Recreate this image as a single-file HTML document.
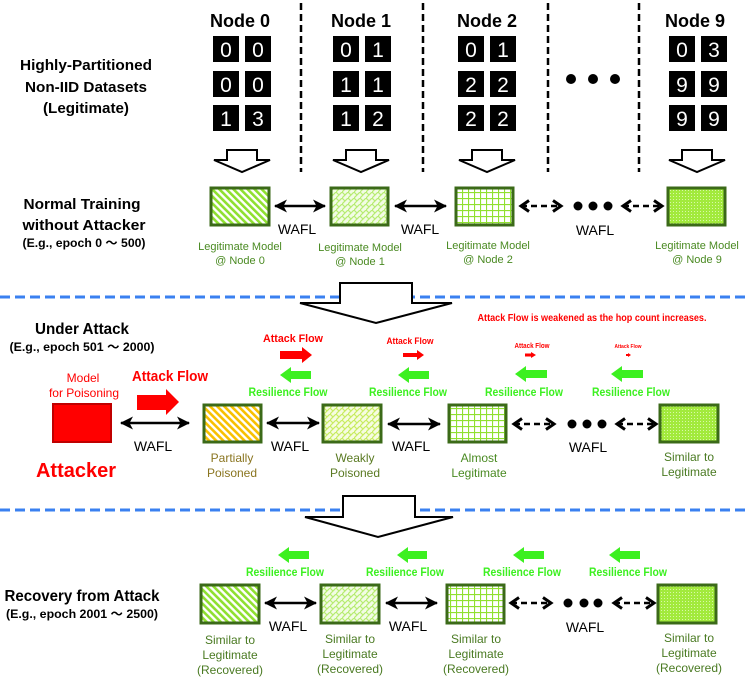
<!DOCTYPE html>
<html><head><meta charset="utf-8"><style>
html,body{margin:0;padding:0;background:#fff;}
svg{display:block;font-family:"Liberation Sans","Noto Sans CJK JP",sans-serif;}
</style></head><body>
<svg width="747" height="681" viewBox="0 0 747 681" xmlns="http://www.w3.org/2000/svg">
<defs>
<pattern id="pDiag" width="5" height="5" patternUnits="userSpaceOnUse" patternTransform="rotate(-45)">
<rect width="5" height="5" fill="#fff"/><rect width="2.6" height="5" fill="#8fe030"/></pattern>
<pattern id="pOrange" width="5" height="5" patternUnits="userSpaceOnUse" patternTransform="rotate(-45)">
<rect width="5" height="5" fill="#fff"/><rect width="2.6" height="5" fill="#f8c000"/></pattern>
<pattern id="pCross" width="6" height="6" patternUnits="userSpaceOnUse">
<rect width="6" height="6" fill="#f2fce4"/><path d="M0 6L6 0M0 0L3 3" stroke="#b6ec70" stroke-width="1.2"/></pattern>
<pattern id="pCrossY" width="6" height="6" patternUnits="userSpaceOnUse">
<rect width="6" height="6" fill="#f6fce0"/><path d="M0 6L6 0M0 0L3 3" stroke="#c8ec60" stroke-width="1.2"/></pattern>
<pattern id="pGrid" width="6" height="6" patternUnits="userSpaceOnUse">
<rect width="6" height="6" fill="#fff"/><path d="M0 0.5H6M0.5 0V6" stroke="#90e030" stroke-width="1.2"/></pattern>
<pattern id="pDot" width="3" height="3" patternUnits="userSpaceOnUse">
<rect width="3" height="3" fill="#a2ea3c"/><rect x="1" y="1" width="1" height="1" fill="#d8f8a8"/></pattern>
<marker id="ah" markerUnits="userSpaceOnUse" markerWidth="16" markerHeight="16" refX="13" refY="8" orient="auto-start-reverse">
<path d="M1 1.5 L14 8 L1 14.5 L4.5 8Z" fill="#000"/></marker>
<marker id="ch" markerUnits="userSpaceOnUse" markerWidth="14" markerHeight="14" refX="11" refY="7" orient="auto-start-reverse">
<path d="M3 1.5 L11 7 L3 12.5" fill="none" stroke="#000" stroke-width="3"/></marker>
</defs>

<g font-weight="bold" font-size="18" text-anchor="middle" fill="#000">
<text x="240" y="27">Node 0</text><text x="361" y="27">Node 1</text>
<text x="487" y="27">Node 2</text><text x="695" y="27">Node 9</text>
</g>
<g stroke="#000" stroke-width="2.5" stroke-dasharray="7,4">
<line x1="301" y1="3" x2="301" y2="172"/><line x1="423" y1="3" x2="423" y2="172"/>
<line x1="548" y1="3" x2="548" y2="172"/><line x1="639" y1="3" x2="639" y2="172"/>
</g>
<g fill="#000">
<rect x="213" y="36" width="26" height="26"/><rect x="245" y="36" width="26" height="26"/>
<rect x="213" y="71" width="26" height="26"/><rect x="245" y="71" width="26" height="26"/>
<rect x="213" y="105" width="26" height="26"/><rect x="245" y="105" width="26" height="26"/>
<rect x="333" y="36" width="26" height="26"/><rect x="365" y="36" width="26" height="26"/>
<rect x="333" y="71" width="26" height="26"/><rect x="365" y="71" width="26" height="26"/>
<rect x="333" y="105" width="26" height="26"/><rect x="365" y="105" width="26" height="26"/>
<rect x="458" y="36" width="26" height="26"/><rect x="490" y="36" width="26" height="26"/>
<rect x="458" y="71" width="26" height="26"/><rect x="490" y="71" width="26" height="26"/>
<rect x="458" y="105" width="26" height="26"/><rect x="490" y="105" width="26" height="26"/>
<rect x="669" y="36" width="26" height="26"/><rect x="701" y="36" width="26" height="26"/>
<rect x="669" y="71" width="26" height="26"/><rect x="701" y="71" width="26" height="26"/>
<rect x="669" y="105" width="26" height="26"/><rect x="701" y="105" width="26" height="26"/>
</g>
<g fill="#fff" font-size="21" text-anchor="middle">
<text x="226" y="57">0</text><text x="258" y="57">0</text><text x="226" y="92">0</text><text x="258" y="92">0</text><text x="226" y="126">1</text><text x="258" y="126">3</text>
<text x="346" y="57">0</text><text x="378" y="57">1</text><text x="346" y="92">1</text><text x="378" y="92">1</text><text x="346" y="126">1</text><text x="378" y="126">2</text>
<text x="471" y="57">0</text><text x="503" y="57">1</text><text x="471" y="92">2</text><text x="503" y="92">2</text><text x="471" y="126">2</text><text x="503" y="126">2</text>
<text x="682" y="57">0</text><text x="714" y="57">3</text><text x="682" y="92">9</text><text x="714" y="92">9</text><text x="682" y="126">9</text><text x="714" y="126">9</text>
</g>
<g fill="#000"><circle cx="571" cy="79" r="5"/><circle cx="593" cy="79" r="5"/><circle cx="615" cy="79" r="5"/></g>
<g fill="#fff" stroke="#000" stroke-width="2">
<polygon points="227,150 257,150 257,160 270,160 242,172 214,160 227,160"/>
<polygon points="346,150 376,150 376,160 389,160 361,172 333,160 346,160"/>
<polygon points="472,150 502,150 502,160 515,160 487,172 459,160 472,160"/>
<polygon points="682,150 712,150 712,160 725,160 697,172 669,160 682,160"/>
</g>
<g font-weight="bold" text-anchor="middle" fill="#000">
<text x="86" y="70" font-size="15" textLength="132" lengthAdjust="spacingAndGlyphs">Highly-Partitioned</text>
<text x="86" y="92" font-size="15" textLength="122" lengthAdjust="spacingAndGlyphs">Non-IID Datasets</text>
<text x="86" y="113" font-size="15" textLength="86" lengthAdjust="spacingAndGlyphs">(Legitimate)</text>
<text x="82" y="209" font-size="15" textLength="117" lengthAdjust="spacingAndGlyphs">Normal Training</text>
<text x="84" y="230" font-size="15" textLength="123" lengthAdjust="spacingAndGlyphs">without Attacker</text>
<text x="84" y="247" font-size="12" textLength="123" lengthAdjust="spacingAndGlyphs">(E.g., epoch 0 ～ 500)</text>
</g>
<g stroke="#3b6a18" stroke-width="3">
<rect x="211" y="188" width="58" height="37" fill="url(#pDiag)"/>
<rect x="331" y="188" width="57" height="37" fill="url(#pCross)"/>
<rect x="456" y="188" width="57" height="37" fill="url(#pGrid)"/>
<rect x="668" y="188" width="57" height="37" fill="url(#pDot)"/>
</g>
<g stroke="#000" stroke-width="2.5" fill="none">
<line x1="275" y1="206" x2="325" y2="206" marker-start="url(#ah)" marker-end="url(#ah)"/>
<line x1="395" y1="206" x2="446" y2="206" marker-start="url(#ah)" marker-end="url(#ah)"/>
<line x1="521" y1="206" x2="561" y2="206" stroke-dasharray="6,4" marker-start="url(#ch)" marker-end="url(#ch)"/>
<line x1="623" y1="206" x2="662" y2="206" stroke-dasharray="6,4" marker-start="url(#ch)" marker-end="url(#ch)"/>
</g>
<g fill="#000"><circle cx="578" cy="206" r="4.5"/><circle cx="593" cy="206" r="4.5"/><circle cx="608" cy="206" r="4.5"/></g>
<g font-size="14" text-anchor="middle" fill="#000">
<text x="297" y="234">WAFL</text><text x="420" y="234">WAFL</text><text x="595" y="235">WAFL</text>
</g>
<g font-size="11" text-anchor="middle" fill="#4a8a22">
<text x="240" y="250">Legitimate Model</text><text x="240" y="264">@ Node 0</text>
<text x="360" y="251">Legitimate Model</text><text x="360" y="265">@ Node 1</text>
<text x="488" y="249">Legitimate Model</text><text x="488" y="263">@ Node 2</text>
<text x="697" y="249">Legitimate Model</text><text x="697" y="263">@ Node 9</text>
</g>

<line x1="0" y1="297" x2="747" y2="297" stroke="#3a80f0" stroke-width="3" stroke-dasharray="10,5"/>
<polygon points="340,283 412,283 412,303 452,303 376,323 300,303 340,303" fill="#fff" stroke="#000" stroke-width="2"/>

<g font-weight="bold" fill="#000" text-anchor="middle">
<text x="82" y="334" font-size="16" textLength="94" lengthAdjust="spacingAndGlyphs">Under Attack</text>
<text x="82" y="351" font-size="12" textLength="145" lengthAdjust="spacingAndGlyphs">(E.g., epoch 501 ～ 2000)</text>
</g>
<text x="592" y="321" font-size="10" font-weight="bold" fill="#ff0000" text-anchor="middle" textLength="229" lengthAdjust="spacingAndGlyphs">Attack Flow is weakened as the hop count increases.</text>
<g fill="#ff0000" text-anchor="middle">
<text x="83" y="382" font-size="12">Model</text>
<text x="84" y="397" font-size="12">for Poisoning</text>
<text x="76" y="477" font-size="20" font-weight="bold">Attacker</text>
<text x="170" y="381" font-size="15" font-weight="bold" textLength="76" lengthAdjust="spacingAndGlyphs">Attack Flow</text>
<text x="293" y="342" font-size="11" font-weight="bold" textLength="60" lengthAdjust="spacingAndGlyphs">Attack Flow</text>
<text x="410" y="344" font-size="9" font-weight="bold" textLength="47" lengthAdjust="spacingAndGlyphs">Attack Flow</text>
<text x="532" y="348" font-size="7" font-weight="bold" textLength="35" lengthAdjust="spacingAndGlyphs">Attack Flow</text>
<text x="628" y="348" font-size="5" font-weight="bold" textLength="27" lengthAdjust="spacingAndGlyphs">Attack Flow</text>
</g>
<rect x="53" y="404" width="58" height="38" fill="#ff0000" stroke="#c00000" stroke-width="2"/>
<g fill="#ff0000">
<polygon points="137,395 166,395 166,389 179,402 166,415 166,410 137,410"/>
<polygon points="280,351 302,351 302,347 312,355 302,363 302,359 280,359"/>
<polygon points="403,353 417,353 417,350 424,355 417,360 417,357 403,357"/>
<polygon points="525,353.5 531,353.5 531,352 536,355 531,358 531,356.5 525,356.5"/>
<polygon points="626,354 628,354 628,353 631,355 628,357 628,356 626,356"/>
</g>
<g fill="#3cf020">
<polygon points="311,371 291,371 291,367 280,375 291,383 291,379 311,379"/>
<polygon points="429,371 409,371 409,367 398,375 409,383 409,379 429,379"/>
<polygon points="547,370 526,370 526,366 515,374 526,382 526,378 547,378"/>
<polygon points="643,370 622,370 622,366 611,374 622,382 622,378 643,378"/>
</g>
<g fill="#3cf020" font-weight="bold" font-size="12" text-anchor="middle">
<text x="288" y="396" textLength="79" lengthAdjust="spacingAndGlyphs">Resilience Flow</text>
<text x="408" y="396" textLength="78" lengthAdjust="spacingAndGlyphs">Resilience Flow</text>
<text x="524" y="396" textLength="78" lengthAdjust="spacingAndGlyphs">Resilience Flow</text>
<text x="631" y="396" textLength="78" lengthAdjust="spacingAndGlyphs">Resilience Flow</text>
</g>
<g stroke="#3b6a18" stroke-width="3">
<rect x="204" y="405" width="57" height="37" fill="url(#pOrange)"/>
<rect x="323" y="405" width="58" height="37" fill="url(#pCrossY)"/>
<rect x="449" y="405" width="57" height="37" fill="url(#pGrid)"/>
<rect x="660" y="405" width="58" height="37" fill="url(#pDot)"/>
</g>
<g stroke="#000" stroke-width="2.5" fill="none">
<line x1="121" y1="423" x2="189" y2="423" marker-start="url(#ah)" marker-end="url(#ah)"/>
<line x1="267" y1="423" x2="319" y2="423" marker-start="url(#ah)" marker-end="url(#ah)"/>
<line x1="388" y1="424" x2="440" y2="424" marker-start="url(#ah)" marker-end="url(#ah)"/>
<line x1="514" y1="424" x2="554" y2="424" stroke-dasharray="6,4" marker-start="url(#ch)" marker-end="url(#ch)"/>
<line x1="617" y1="424" x2="656" y2="424" stroke-dasharray="6,4" marker-start="url(#ch)" marker-end="url(#ch)"/>
</g>
<g fill="#000"><circle cx="572" cy="424" r="4.5"/><circle cx="587" cy="424" r="4.5"/><circle cx="602" cy="424" r="4.5"/></g>
<g font-size="14" text-anchor="middle" fill="#000">
<text x="153" y="451">WAFL</text><text x="290" y="451">WAFL</text><text x="411" y="451">WAFL</text><text x="588" y="452">WAFL</text>
</g>
<g font-size="12" text-anchor="middle">
<text x="232" y="462" fill="#8a7520">Partially</text><text x="232" y="477" fill="#8a7520">Poisoned</text>
<text x="355" y="462" fill="#5a7a22">Weakly</text><text x="355" y="477" fill="#5a7a22">Poisoned</text>
<text x="479" y="462" fill="#4a8a22">Almost</text><text x="479" y="477" fill="#4a8a22">Legitimate</text>
<text x="689" y="461" fill="#4a7a22">Similar to</text><text x="689" y="476" fill="#4a7a22">Legitimate</text>
</g>

<line x1="0" y1="510" x2="747" y2="510" stroke="#3a80f0" stroke-width="3" stroke-dasharray="10,5"/>
<polygon points="343,496 415,496 415,517 453,517 378,537 305,517 343,517" fill="#fff" stroke="#000" stroke-width="2"/>

<g font-weight="bold" fill="#000" text-anchor="middle">
<text x="82" y="601" font-size="16" textLength="155" lengthAdjust="spacingAndGlyphs">Recovery from Attack</text>
<text x="82" y="618" font-size="12" textLength="152" lengthAdjust="spacingAndGlyphs">(E.g., epoch 2001 ～ 2500)</text>
</g>
<g fill="#3cf020">
<polygon points="309,551 289,551 289,547 278,555 289,563 289,559 309,559"/>
<polygon points="427,551 408,551 408,547 397,555 408,563 408,559 427,559"/>
<polygon points="544,551 524,551 524,547 513,555 524,563 524,559 544,559"/>
<polygon points="640,551 620,551 620,547 609,555 620,563 620,559 640,559"/>
</g>
<g fill="#3cf020" font-weight="bold" font-size="12" text-anchor="middle">
<text x="285" y="576" textLength="78" lengthAdjust="spacingAndGlyphs">Resilience Flow</text>
<text x="405" y="576" textLength="78" lengthAdjust="spacingAndGlyphs">Resilience Flow</text>
<text x="522" y="576" textLength="78" lengthAdjust="spacingAndGlyphs">Resilience Flow</text>
<text x="628" y="576" textLength="78" lengthAdjust="spacingAndGlyphs">Resilience Flow</text>
</g>
<g stroke="#3b6a18" stroke-width="3">
<rect x="201" y="585" width="58" height="38" fill="url(#pDiag)"/>
<rect x="321" y="585" width="58" height="38" fill="url(#pCross)"/>
<rect x="447" y="585" width="57" height="38" fill="url(#pGrid)"/>
<rect x="658" y="585" width="58" height="38" fill="url(#pDot)"/>
</g>
<g stroke="#000" stroke-width="2.5" fill="none">
<line x1="265" y1="603" x2="316" y2="603" marker-start="url(#ah)" marker-end="url(#ah)"/>
<line x1="386" y1="603" x2="437" y2="603" marker-start="url(#ah)" marker-end="url(#ah)"/>
<line x1="511" y1="603" x2="551" y2="603" stroke-dasharray="6,4" marker-start="url(#ch)" marker-end="url(#ch)"/>
<line x1="614" y1="603" x2="654" y2="603" stroke-dasharray="6,4" marker-start="url(#ch)" marker-end="url(#ch)"/>
</g>
<g fill="#000"><circle cx="568" cy="603" r="4.5"/><circle cx="584" cy="603" r="4.5"/><circle cx="598" cy="603" r="4.5"/></g>
<g font-size="14" text-anchor="middle" fill="#000">
<text x="288" y="631">WAFL</text><text x="408" y="631">WAFL</text><text x="585" y="632">WAFL</text>
</g>
<g font-size="12" text-anchor="middle" fill="#4a7a22">
<text x="230" y="644">Similar to</text><text x="230" y="659">Legitimate</text><text x="230" y="674">(Recovered)</text>
<text x="350" y="643">Similar to</text><text x="350" y="658">Legitimate</text><text x="350" y="673">(Recovered)</text>
<text x="476" y="643">Similar to</text><text x="476" y="658">Legitimate</text><text x="476" y="673">(Recovered)</text>
<text x="689" y="642">Similar to</text><text x="689" y="657">Legitimate</text><text x="689" y="672">(Recovered)</text>
</g>
</svg>
</body></html>
